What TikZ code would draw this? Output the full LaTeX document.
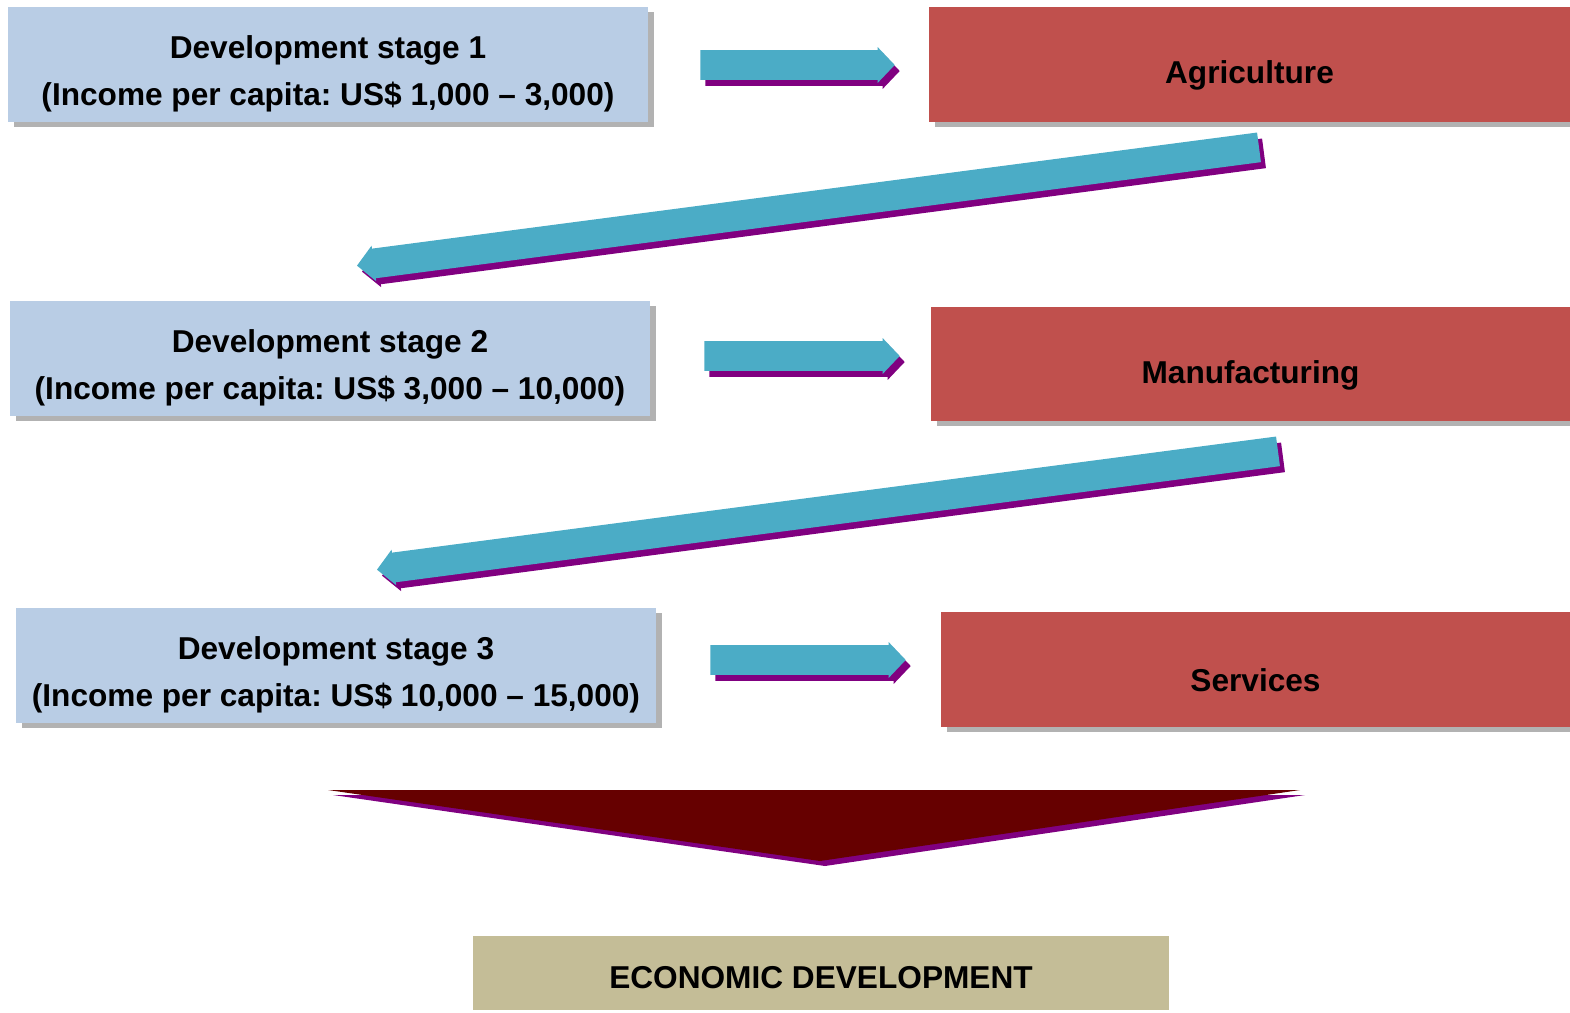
\documentclass[tikz,border=0pt]{standalone}
\usepackage{fontspec}
\setmainfont{Liberation Sans}
\usetikzlibrary{calc}
\usetikzlibrary{shadows}
\usetikzlibrary{positioning}
\definecolor{stageblue}{RGB}{185, 205, 229}
\definecolor{sectorred}{RGB}{192, 80, 77}
\definecolor{arrowcyan}{RGB}{75, 172, 198}
\definecolor{arrowshade}{RGB}{128, 0, 128}
\definecolor{funnelred}{RGB}{102, 0, 0}
\definecolor{goalkhaki}{RGB}{196, 189, 151}
\definecolor{boxshade}{RGB}{178, 178, 178}

% block arrow with purple shadow, from tail #1 to tip #2
\newcommand{\flowarrow}[2]{%
  \foreach \col/\dx/\dy in {arrowshade/5/6, arrowcyan/0/0} {
    \coordinate (fa-t) at ($(#1)+(\dx,\dy)$);
    \coordinate (fa-h) at ($(#2)+(\dx,\dy)$);
    \coordinate (fa-b) at ($(fa-h)!9.7pt!(fa-t)$);
    \fill[\col] ($(fa-t)!8.5pt!90:(fa-h)$) -- ($(fa-b)!8.5pt!90:(fa-h)$)
      -- ($(fa-b)!10.2pt!90:(fa-h)$) -- (fa-h) -- ($(fa-b)!10.2pt!-90:(fa-h)$)
      -- ($(fa-b)!8.5pt!-90:(fa-h)$) -- ($(fa-t)!8.5pt!-90:(fa-h)$) -- cycle;
  }}

\tikzset{
  boxtext/.style={font=\fontsize{18}{26.7}\selectfont\bfseries\frenchspacing, align=center, inner sep=0pt},
  stagebox/.style={fill=stageblue, minimum width=12.8cm, minimum height=2.3cm, inner sep=0pt,
    drop shadow={shadow xshift=0.12cm, shadow yshift=-0.1cm, fill=boxshade, opacity=1},
    label={[boxtext, yshift=-0.19cm]center:{#1}}},
  sectorbox/.style={fill=sectorred, minimum height=2.3cm, inner sep=0pt,
    drop shadow={shadow xshift=0.12cm, shadow yshift=-0.1cm, fill=boxshade, opacity=1},
    label={[boxtext, yshift=-0.22cm]center:{#1}}},
}

\begin{document}
\begin{tikzpicture}[x=0.02cm, y=-0.02cm]
    \useasboundingbox (0, 0) rectangle (1570, 1012);

    % stages
    \node[stagebox={Development stage 1\\(Income per capita: US\$ 1,000 -- 3,000)}] (stage1) at (328, 64.5) {};
    \node[stagebox={Development stage 2\\(Income per capita: US\$ 3,000 -- 10,000)}] (stage2) at (330, 358.5) {};
    \node[stagebox={Development stage 3\\(Income per capita: US\$ 10,000 -- 15,000)}] (stage3) at (336, 665.5) {};

    % sectors
    \node[sectorbox=Agriculture, minimum width=12.82cm] (agri) at (1249.5, 64.5) {};
    \node[sectorbox=Manufacturing, minimum width=12.78cm, minimum height=2.28cm] (manuf) at (1250.5, 364) {};
    \node[sectorbox=Services, minimum width=12.58cm] (serv) at (1255.5, 669.5) {};

    \node[fill=goalkhaki, minimum width=13.92cm, minimum height=1.48cm, inner sep=0pt,
      label={[boxtext, yshift=-0.1cm]center:ECONOMIC DEVELOPMENT}] (econ) at (821, 973) {};

    % arrows
    \coordinate (h1s) at ($(stage1.east)+(52, 0.5)$);
    \coordinate (h1e) at ($(agri.west)+(-34, 0.5)$);
    \coordinate (d1s) at ($(agri.south)+(9.5, 25)$);
    \coordinate (d1e) at ($(stage2.north)+(27, -35)$);
    \coordinate (h2s) at ($(stage2.east)+(54, -2.5)$);
    \coordinate (h2e) at ($(manuf.west)+(-31, -8)$);
    \coordinate (d2s) at ($(manuf.south)+(27.5, 30)$);
    \coordinate (d2e) at ($(stage3.north)+(41, -38)$);
    \coordinate (h3s) at ($(stage3.east)+(54, -5.5)$);
    \coordinate (h3e) at ($(serv.west)+(-35, -9.5)$);

    \flowarrow{h1s}{h1e}
    \flowarrow{d1s}{d1e}
    \flowarrow{h2s}{h2e}
    \flowarrow{d2s}{d2e}
    \flowarrow{h3s}{h3e}

    % funnel
    \fill[arrowshade] (333, 795) -- (1305, 795) -- (825, 866) -- cycle;
    \fill[funnelred] (328, 790) -- (1300, 790) -- (820, 861) -- cycle;
\end{tikzpicture}
\end{document}
